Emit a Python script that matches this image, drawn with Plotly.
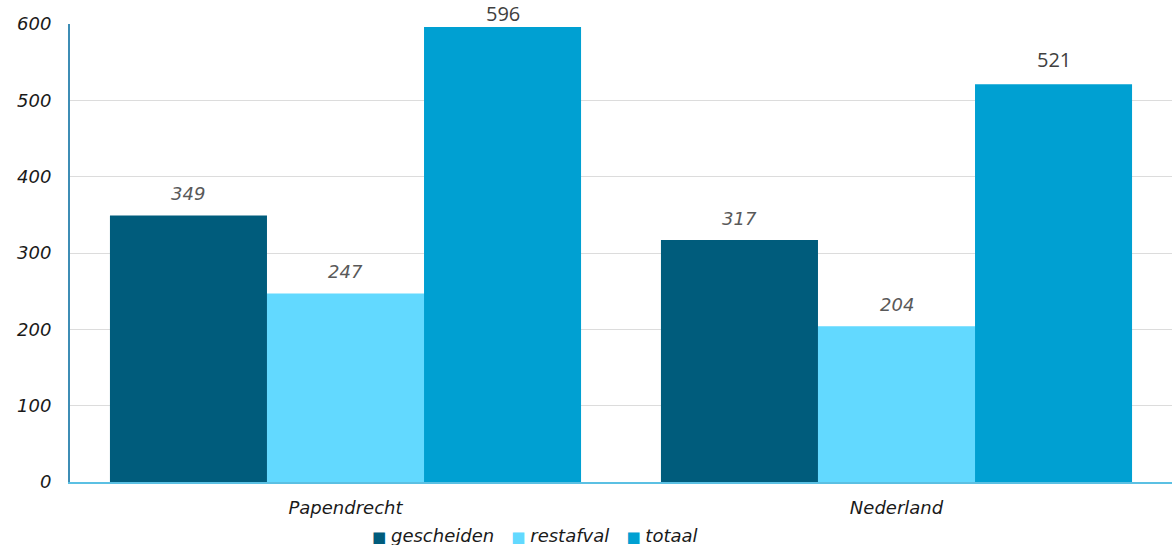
import plotly.graph_objects as go

categories = ["Papendrecht", "Nederland"]
series_names = ["gescheiden", "restafval", "totaal"]
gescheiden = [349, 317]
restafval = [247, 204]
totaal = [596, 521]
y_ticks = [0, 100, 200, 300, 400, 500, 600]

colors = ["#005C7C", "#62D9FF", "#00A0D2"]
font_fam = "DejaVu Sans"
BARGAP = 0.145
FS = 18
M_T, M_B, H = 24, 63, 545
Y_MAX = 600

fig = go.Figure()
values = [gescheiden, restafval, totaal]
for name, vals, col in zip(series_names, values, colors):
    fig.add_trace(go.Bar(x=categories, y=vals, name=name,
                         marker=dict(color=col, line=dict(width=0)), showlegend=False))

# value labels as annotations above each bar (kept inside the figure top)
plot_h = H - M_T - M_B
bw = (1 - BARGAP) / 3
for j, (name, vals) in enumerate(zip(series_names, values)):
    if name == "totaal":
        fnt = dict(family="Open Sans", size=20, color="#404040")
        base_shift = 25
    else:
        fnt = dict(family=font_fam, size=FS, color="#595959", style="italic")
        base_shift = 22
    for i, v in enumerate(vals):
        px_above_top = M_T + (Y_MAX - v) / Y_MAX * plot_h
        shift = min(base_shift, px_above_top - 14)
        fig.add_annotation(x=i + (j - 1) * bw, y=v, xref="x", yref="y", text=str(v),
                           showarrow=False, yshift=shift, yanchor="middle", font=fnt)

# compact legend built as text
legend_text = "   ".join(
    f"<span style='color:{c};font-size:15px'>■ </span>{n}" for n, c in zip(series_names, colors))
fig.add_annotation(x=0.422, y=-0.116, xref="paper", yref="paper", text=legend_text,
                   showarrow=False, xanchor="center", yanchor="middle",
                   font=dict(family=font_fam, size=FS, color="#1a1a1a", style="italic"))

fig.update_layout(
    width=1176, height=H,
    margin=dict(l=70, r=4, t=M_T, b=M_B),
    paper_bgcolor="white", plot_bgcolor="white",
    barmode="group", bargap=BARGAP, bargroupgap=0,
    showlegend=False,
    font=dict(family=font_fam),
)
fig.update_xaxes(showline=True, linecolor="#5BC0E3", linewidth=2, ticks="", automargin=False,
                 tickfont=dict(family=font_fam, size=FS, color="#1a1a1a", style="italic"),
                 ticklabelstandoff=8)
fig.update_yaxes(range=[0, Y_MAX], tickvals=y_ticks, showgrid=True, gridcolor="#DCDCDC",
                 gridwidth=1, showline=True, linecolor="#3D8DB5", linewidth=2, zeroline=False,
                 automargin=False,
                 tickfont=dict(family=font_fam, size=FS, color="#1a1a1a", style="italic"),
                 ticklabelstandoff=13)

fig.write_html("out.html", config={"displayModeBar": False},
               post_script="document.body.style.margin='0';document.body.style.overflow='hidden';")
